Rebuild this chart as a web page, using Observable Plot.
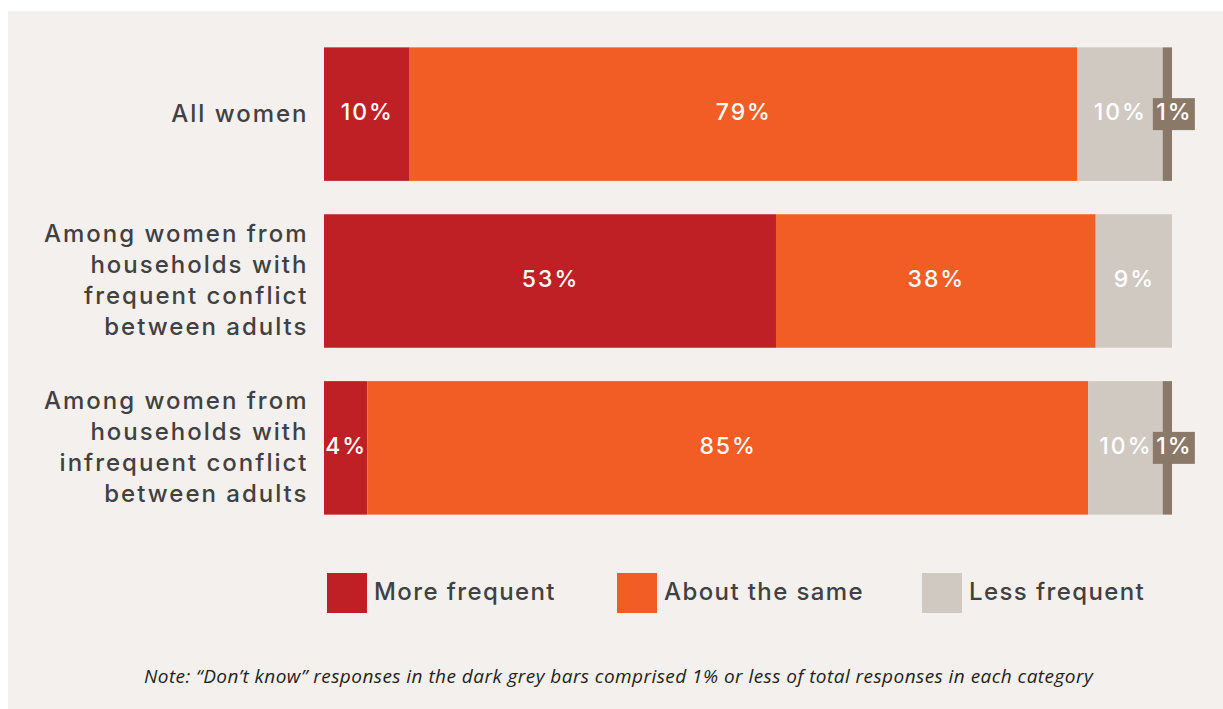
<!DOCTYPE html>
<html>
<head>
<meta charset="utf-8">
<script src="https://cdn.jsdelivr.net/npm/d3@7"></script>
<script src="https://cdn.jsdelivr.net/npm/@observablehq/plot@0.6"></script>
<style>
  html, body { margin: 0; padding: 0; background: #ffffff; }
  #panel { position: absolute; left: 8px; top: 11px; width: 1215px; height: 698px; background: #f3f0ed; font-family: Inter, sans-serif; }
  #chart svg { display: block; }
  #chart text { letter-spacing: 2px; }
  #chart text.inbar { letter-spacing: 0.8px; }
  .legend { position: relative; height: 40px; margin-top: 22px; }
  .item { position: absolute; top: 0; display: flex; align-items: center; height: 40px; }
  .sw { width: 40px; height: 40px; margin-right: 7px; }
  .lab { font-size: 24px; font-weight: 500; color: #414042; white-space: nowrap; letter-spacing: 1.4px; position: relative; top: -2px; }
  .note { position: relative; margin-top: 50px; text-align: center; padding-left: 6px; font-family: "Open Sans", sans-serif; font-style: italic; font-size: 19px; letter-spacing: 0.45px; color: #231f20; }
</style>
</head>
<body>
<div id="panel">
  <div id="chart"></div>
  <div class="legend" id="legend"></div>
  <div class="note" id="note"></div>
</div>
<script>
const categories = [
  "All women",
  "Among women from\nhouseholds with\nfrequent conflict\nbetween adults",
  "Among women from\nhouseholds with\ninfrequent conflict\nbetween adults"
];
const responses = ["More frequent", "About the same", "Less frequent", "Don't know"];
const colors = ["#be2026", "#f15d24", "#d0c9c2", "#8a7968"];

// bar lengths (percent)
const moreFrequent = [10.1, 53.3, 5.1];
const aboutSame = [78.7, 37.7, 85.0];
const lessFrequent = [10.1, 9.0, 8.8];
const dontKnow = [1.1, 0, 1.1];

// printed labels
const moreLabels = ["10%", "53%", "4%"];
const sameLabels = ["79%", "38%", "85%"];
const lessLabels = ["10%", "9%", "10%"];
const dkLabels = ["1%", "", "1%"];

const legendItems = ["More frequent", "About the same", "Less frequent"];
const noteText = "Note: \u201CDon\u2019t know\u201D responses in the dark grey bars comprised 1% or less of total responses in each category";

const series = [moreFrequent, aboutSame, lessFrequent, dontKnow];
const labelSeries = [moreLabels, sameLabels, lessLabels, dkLabels];

const rows = [];
categories.forEach((c, i) => {
  let acc = 0;
  responses.forEach((r, j) => {
    const v = series[j][i];
    if (v > 0) {
      rows.push({category: c, response: r, value: v, x1: acc, x2: acc + v, mid: acc + v / 2, label: labelSeries[j][i]});
    }
    acc += v;
  });
});
const mainRows = rows.filter(d => d.response !== "Don't know");
const dkRows = rows.filter(d => d.response === "Don't know");

const W = 1215;
const chart = Plot.plot({
  width: W,
  height: 540,
  marginLeft: 316,
  marginRight: W - 1164,
  marginTop: 3,
  marginBottom: 3,
  style: {background: "transparent", fontFamily: "Inter, sans-serif", overflow: "visible"},
  x: {domain: [0, 100], axis: null},
  y: {domain: categories, axis: null, padding: 0.2, round: false},
  color: {domain: responses, range: colors},
  marks: [
    Plot.barX(rows, {x1: "x1", x2: "x2", y: "category", fill: "response"}),
    Plot.text(mainRows, {x: "mid", y: "category", text: "label", fill: "white", fontSize: 23, fontWeight: 500, dy: -2, className: "inbar"}),
    Plot.barX(dkRows, {x1: "mid", x2: "mid", y: "category", fill: colors[3], insetLeft: -14.5, insetRight: -27.5, insetTop: 50.75, insetBottom: 50.75}),
    Plot.text(dkRows, {x: "mid", y: "category", text: "label", fill: "white", fontSize: 23, fontWeight: 500, dx: 6.5, dy: -2, className: "inbar"}),
    Plot.text(categories, {x: 0, y: d => d, text: d => d, textAnchor: "end", dx: -16, dy: -3, fontSize: 24, fontWeight: 500, lineHeight: 1.29, fill: "#414042"})
  ]
});
document.getElementById("chart").appendChild(chart);

const legendLeft = [319, 609, 914];
const legend = document.getElementById("legend");
legendItems.forEach((name, i) => {
  const it = document.createElement("div");
  it.className = "item";
  it.style.left = legendLeft[i] + "px";
  const sw = document.createElement("div");
  sw.className = "sw";
  sw.style.background = colors[i];
  const lab = document.createElement("span");
  lab.className = "lab";
  lab.textContent = name;
  it.appendChild(sw);
  it.appendChild(lab);
  legend.appendChild(it);
});
document.getElementById("note").textContent = noteText;
</script>
</body>
</html>
